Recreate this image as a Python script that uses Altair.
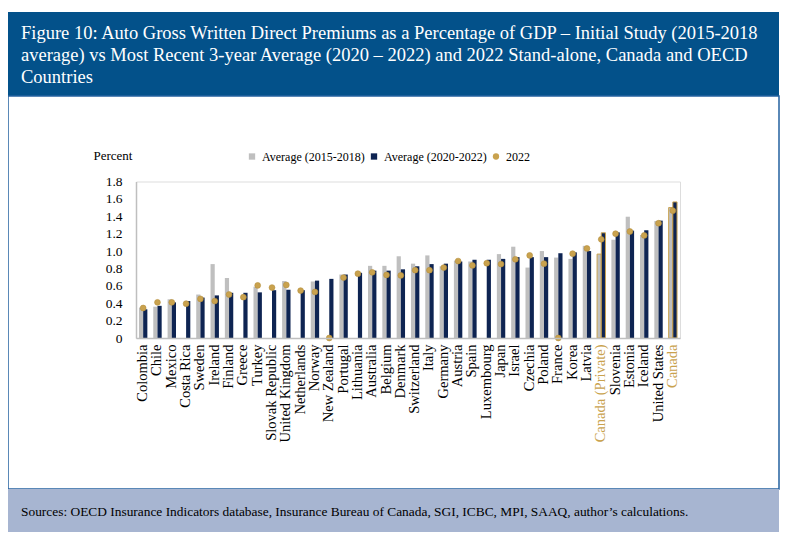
import altair as alt
import pandas as pd

countries = ["Colombia", "Chile", "Mexico", "Costa Rica", "Sweden", "Ireland", "Finland", "Greece",
             "Turkey", "Slovak Republic", "United Kingdom", "Netherlands", "Norway", "New Zealand",
             "Portugal", "Lithuania", "Australia", "Belgium", "Denmark", "Switzerland", "Italy",
             "Germany", "Austria", "Spain", "Luxembourg", "Japan", "Israel", "Czechia", "Poland",
             "France", "Korea", "Latvia", "Canada (Private)", "Slovenia", "Estonia", "Iceland",
             "United States", "Canada"]
avg_2015_2018 = [0.35, 0.36, 0.445, None, 0.50, 0.85, 0.69, None, 0.59, None, 0.655, None, 0.65, None,
                 0.73, None, 0.83, 0.83, 0.94, 0.855, 0.95, 0.825, 0.89, 0.88, None, 0.965, 1.05, 0.81,
                 1.00, 0.925, 0.91, 1.06, 0.965, 1.13, 1.395, 1.185, 1.345, 1.50]
avg_2020_2022 = [0.33, 0.37, 0.41, 0.425, 0.465, 0.49, 0.52, 0.52, 0.525, 0.55, 0.555, 0.55, 0.66, 0.68,
                 0.73, 0.75, 0.775, 0.775, 0.79, 0.825, 0.85, 0.855, 0.88, 0.90, 0.90, 0.91, 0.93, 0.93,
                 0.93, 0.975, 0.985, 1.00, 1.21, 1.215, 1.235, 1.24, 1.35, 1.565]
val_2022 = [0.345, 0.41, 0.41, 0.395, 0.45, 0.425, 0.50, 0.47, 0.605, 0.58, 0.61, 0.545, 0.53, 0.0,
            0.695, 0.74, 0.755, 0.725, 0.72, 0.78, 0.78, 0.81, 0.885, 0.835, 0.86, 0.85, 0.905, 0.95,
            0.855, 0.0, 0.97, 1.03, 1.135, 1.20, 1.225, 1.18, 1.32, 1.465]
series_names = ["Average (2015-2018)", "Average (2020-2022)", "2022"]
y_ticks = [0, 0.2, 0.4, 0.6, 0.8, 1.0, 1.2, 1.4, 1.6, 1.8]

TITLE = ("Figure 10: Auto Gross Written Direct Premiums as a Percentage of GDP \u2013 Initial Study (2015-2018\n"
         "average) vs Most Recent 3-year Average (2020 \u2013 2022) and 2022 Stand-alone, Canada and OECD\n"
         "Countries")
SOURCE = ("Sources: OECD Insurance Indicators database, Insurance Bureau of Canada, SGI, ICBC, MPI, SAAQ, "
          "author\u2019s calculations.")

GRAY = "#BFBFBF"
NAVY = "#0E2452"
GOLD = "#C9A24E"
FONT = "Liberation Serif"

df = pd.DataFrame({"country": countries, "a1518": avg_2015_2018,
                   "a2022": avg_2020_2022, "v2022": val_2022})

is_canada = "datum.country == 'Canada' || datum.country == 'Canada (Private)'"

x_enc = alt.X("country:N", sort=countries, title=None,
              scale=alt.Scale(paddingInner=0, paddingOuter=0),
              axis=alt.Axis(labelAngle=270, labelFontSize=14.5, labelFont=FONT, labelPadding=6,
                            ticks=False, domainColor="#BFBFBF", domainWidth=1.5, zindex=1,
                            labelOverlap=False,
                            labelColor=alt.condition("datum.value == 'Canada' || datum.value == 'Canada (Private)'",
                                                     alt.value(GOLD), alt.value("black"))))
y_scale = alt.Scale(domain=[0, 1.8], nice=False)
y_axis = alt.Axis(values=y_ticks, labelExpr="datum.value == 0 ? '0' : format(datum.value, '.1f')",
                  ticks=False, grid=False, domainColor="#BFBFBF", domainWidth=1.5, zindex=1,
                  labelOverlap=False, labelFontSize=13.5, labelFont=FONT, labelPadding=14,
                  labelColor="black",
                  title="Percent", titleAngle=0, titleAlign="left", titleBaseline="middle",
                  titleX=-43, titleY=-26, titleFont=FONT, titleFontSize=13, titleFontWeight="normal",
                  titleColor="black")
color_scale = alt.Scale(domain=series_names, range=[GRAY, NAVY, GOLD])
shape_scale = alt.Scale(domain=series_names, range=["square", "square", "circle"])
legend = alt.Legend(title=None, orient="none", direction="horizontal", legendX=110, legendY=-31,
                    labelFont=FONT, labelFontSize=12, labelColor="black", symbolSize=40,
                    columnPadding=3, padding=0, symbolStrokeWidth=0)

base = alt.Chart(df)

bars_old = base.transform_calculate(series="'Average (2015-2018)'").mark_bar(
    width=4.2, xOffset=-2.1, strokeWidth=1).encode(
    x=x_enc,
    y=alt.Y("a1518:Q", scale=y_scale, axis=y_axis),
    color=alt.Color("series:N", scale=color_scale, legend=legend),
    stroke=alt.condition(is_canada, alt.value(GOLD), alt.value("transparent")),
)
bars_new = base.transform_calculate(series="'Average (2020-2022)'").mark_bar(
    width=4.2, xOffset=2.1, strokeWidth=1).encode(
    x=x_enc,
    y=alt.Y("a2022:Q", scale=y_scale, axis=y_axis),
    color=alt.Color("series:N", scale=color_scale, legend=legend),
    stroke=alt.condition(is_canada, alt.value(GOLD), alt.value("transparent")),
)
dots = base.transform_calculate(series="'2022'").mark_point(
    filled=True, size=34, opacity=1, stroke="#B58F3C", strokeWidth=0.6).encode(
    x=x_enc,
    y=alt.Y("v2022:Q", scale=y_scale, axis=y_axis),
    color=alt.Color("series:N", scale=color_scale, legend=legend),
    shape=alt.Shape("series:N", scale=shape_scale, legend=legend),
)

one = alt.Chart(pd.DataFrame({"k": [0]}))
header = one.mark_rect(color="#03518A").encode(
    x=alt.value(-128), x2=alt.value(643), y=alt.value(-169.5), y2=alt.value(-85.5))
frame = one.mark_rect(fill="transparent", stroke="#2461A0", strokeWidth=1.5).encode(
    x=alt.value(-128), x2=alt.value(643), y=alt.value(-85.5), y2=alt.value(307.5))
footer = one.mark_rect(color="#A7B5D1").encode(
    x=alt.value(-128), x2=alt.value(643), y=alt.value(307.5), y2=alt.value(350.5))
title_txt = one.mark_text(align="left", baseline="alphabetic", font=FONT, fontSize=18.5,
                          color="white", lineBreak="\n", lineHeight=22).encode(
    x=alt.value(-115), y=alt.value(-142.5), text=alt.value(TITLE))
source_txt = one.mark_text(align="left", baseline="alphabetic", font=FONT, fontSize=13.4,
                           color="black").encode(
    x=alt.value(-115), y=alt.value(334.5), text=alt.value(SOURCE))

chart = alt.layer(header, frame, footer, title_txt, source_txt, bars_old, bars_new, dots).properties(
    width=544, height=156.5,
    autosize=alt.AutoSizeParams(type="none"),
    padding={"left": 128, "top": 173.5, "right": 112, "bottom": 200},
).configure_view(stroke=None).configure(font=FONT).configure_axis(labelOverlap=False)

chart.save("out.html", embed_options={"renderer": "svg", "actions": False})
